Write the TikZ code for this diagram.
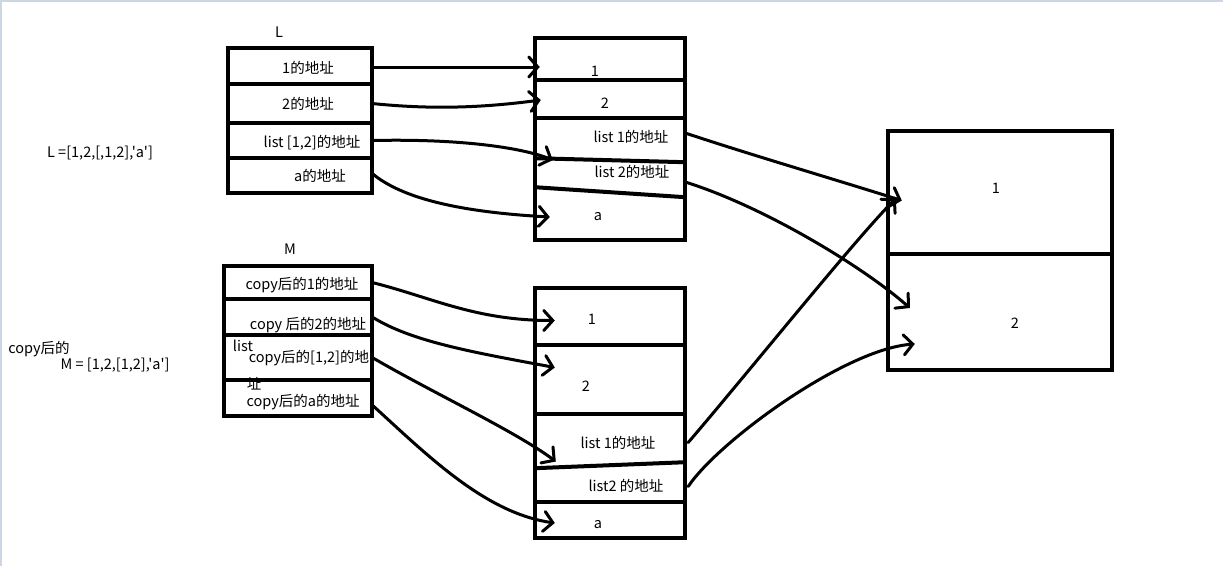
\documentclass[tikz,border=0pt]{standalone}
\usepackage{fontspec}
\setmainfont{Noto Sans CJK SC}[Ligatures=TeXOff]
\usetikzlibrary{arrows.meta}
\begin{document}
\begin{tikzpicture}[x=1pt,y=-1pt]
\tikzset{
  cell/.style={draw=none, inner sep=0pt},
  frame/.style={draw, line width=4pt, line join=miter},
  divider/.style={line width=4pt},
  lbl/.style={font=\fontsize{14.5}{16}\selectfont, inner sep=0pt},
  ptr/.style={line width=3pt, line cap=round, line join=round,
    -{Straight Barb[length=9pt,width=20pt,line width=3pt,line cap=round]}}
}
\useasboundingbox (0,0) rectangle (1223,566);
\draw[color={rgb,255:red,205;green,215;blue,228}, line width=2pt] (1223,1) -- (1,1) -- (1,566);

% ---------- box L ----------
\node[cell, minimum width=144pt, minimum height=36pt] (L1) at (300,66) {};
\node[cell, minimum width=144pt, minimum height=39pt] (L2) at (300,103.5) {};
\node[cell, minimum width=144pt, minimum height=35pt] (L3) at (300,140.5) {};
\node[cell, minimum width=144pt, minimum height=35pt] (L4) at (300,175.5) {};
\draw[frame] (L1.north west) rectangle (L4.south east);
\draw[divider] (L1.south west) -- (L1.south east);
\draw[divider] (L2.south west) -- (L2.south east);
\draw[divider] (L3.south west) -- (L3.south east);

% ---------- box M ----------
\node[cell, minimum width=148pt, minimum height=33pt] (M1) at (298,282.5) {};
\node[cell, minimum width=148pt, minimum height=36pt] (M2) at (298,317) {};
\node[cell, minimum width=148pt, minimum height=45pt] (M3) at (298,357.5) {};
\node[cell, minimum width=148pt, minimum height=36pt] (M4) at (298,398) {};

% ---------- box A ----------
\node[cell, minimum width=150pt, minimum height=42pt] (A1) at (610,59) {};
\node[cell, minimum width=150pt, minimum height=38pt] (A2) at (610,99) {};
\node[cell, minimum width=150pt, minimum height=42pt] (A3) at (610,139) {};
\node[cell, minimum width=150pt, minimum height=32pt] (A4) at (610,176) {};
\node[cell, minimum width=150pt, minimum height=48pt] (A5) at (610,216) {};
\draw[frame] (A1.north west) rectangle (A5.south east);
\draw[divider] (A1.south west) -- (A1.south east);
\draw[divider] (A2.south west) -- (A2.south east);
\draw[divider] ([shift={(0,-2)}]A3.south west) -- ([shift={(0,2)}]A3.south east);
\draw[divider] ([shift={(0,-5)}]A4.south west) -- ([shift={(0,5)}]A4.south east);

% ---------- box B ----------
\node[cell, minimum width=150pt, minimum height=57pt] (B1) at (610,316.5) {};
\node[cell, minimum width=150pt, minimum height=69pt] (B2) at (610,379.5) {};
\node[cell, minimum width=150pt, minimum height=51pt] (B3) at (610,439.5) {};
\node[cell, minimum width=150pt, minimum height=37pt] (B4) at (610,483.5) {};
\node[cell, minimum width=150pt, minimum height=36pt] (B5) at (610,520) {};
\draw[frame] (B1.north west) rectangle (B5.south east);
\draw[divider] (B1.south west) -- (B1.south east);
\draw[divider] (B2.south west) -- (B2.south east);
\draw[divider] ([shift={(0,3)}]B3.south west) -- ([shift={(0,-3)}]B3.south east);
\draw[divider] (B4.south west) -- (B4.south east);

% ---------- box C ----------
\node[cell, minimum width=224pt, minimum height=123pt] (C1) at (1000,192.5) {};
\node[cell, minimum width=224pt, minimum height=116pt] (C2) at (1000,312) {};
\draw[frame] (C1.north west) rectangle (C2.south east);
\draw[divider] (C1.south west) -- (C1.south east);

% ---------- texts ----------
\node[lbl] (tL) at (279,32) {L};
\node[lbl] (tM) at (290,249) {M};
\node[lbl] (tLdef) at (100,153) {L =[1,2,[,1,2],'a']};
\node[lbl] (tcopy) at (39,349) {copy后的};
\node[lbl] (tMdef) at (115,365) {M = [1,2,[1,2],'a']};

\node[lbl] (tL1) at (308,68) {1的地址};
\node[lbl] (tL2) at (308,104) {2的地址};
\node[lbl] (tL3) at (312,143) {list [1,2]的地址};
\node[lbl] (tL4) at (320,176) {a的地址};

\node[lbl] (tM1) at (302,285) {copy后的1的地址};
\node[lbl] (tM2) at (308,325) {copy 后的2的地址};
\node[lbl] (tM3a) at (243,346) {list};
\node[lbl] (tM3) at (309,358) {copy后的[1,2]的地};
\node[lbl] (tM3b) at (254,384) {址};
\node[lbl] (tM4) at (303,402) {copy后的a的地址};

\draw[frame] (M1.north west) rectangle (M4.south east);
\draw[divider] (M1.south west) -- (M1.south east);
\draw[divider] (M2.south west) -- (M2.south east);
\draw[divider] (M3.south west) -- (M3.south east);

\node[lbl] (tA1) at (595,71) {1};
\node[lbl] (tA2) at (605,103) {2};
\node[lbl] (tA3) at (631,137) {list 1的地址};
\node[lbl] (tA4) at (632,172) {list 2的地址};
\node[lbl] (tA5) at (598,217) {a};

\node[lbl] (tB1) at (592,319) {1};
\node[lbl] (tB2) at (586,386) {2};
\node[lbl] (tB3) at (618,443) {list 1的地址};
\node[lbl] (tB4) at (626,486) {list2 的地址};
\node[lbl] (tB5) at (598,525) {a};

\node[lbl] (tC1) at (996,188) {1};
\node[lbl] (tC2) at (1015,323) {2};

% ---------- pointers ----------
\draw[ptr] ([shift={(0,1)}]L1.east) -- ([shift={(5,8)}]A1.west);
\draw[ptr] (L2.east) .. controls +(58,6) and +(-60,8) .. ([shift={(6,1)}]A2.west);
\draw[ptr] (L3.east) .. controls +(90,-2) and +(-30,-12) .. ([shift={(18,21)}]A3.west);
\draw[ptr] ([shift={(0,-2)}]L4.east) .. controls +(30,25) and +(-90,-5) .. ([shift={(15,1)}]A5.west);

\draw[ptr] ([shift={(0,-6)}]A3.east) .. controls +(60,20) and +(-80,-25) .. ([shift={(14,8)}]C1.west);
\draw[ptr] ([shift={(0,6)}]A4.east) .. controls +(80,25) and +(-45,-40) .. ([shift={(22,-4)}]C2.west);
\draw[ptr] ([shift={(3,3)}]B3.east) .. controls +(60,-70) and +(-40,40) .. ([shift={(8,6)}]C1.west);
\draw[ptr] ([shift={(3,3)}]B4.east) .. controls +(30,-45) and +(-70,5) .. ([shift={(27,32)}]C2.west);

\draw[ptr] (M1.east) .. controls +(60,15) and +(-80,0) .. ([shift={(20,4)}]B1.west);
\draw[ptr] (M2.east) .. controls +(40,25) and +(-80,-15) .. ([shift={(20,-12)}]B2.west);
\draw[ptr] (M3.east) .. controls +(60,35) and +(-40,-30) .. ([shift={(21,22)}]B3.west);
\draw[ptr] ([shift={(0,7)}]M4.east) .. controls +(55,50) and +(-70,-10) .. ([shift={(20,3)}]B5.west);
\end{tikzpicture}
\end{document}
